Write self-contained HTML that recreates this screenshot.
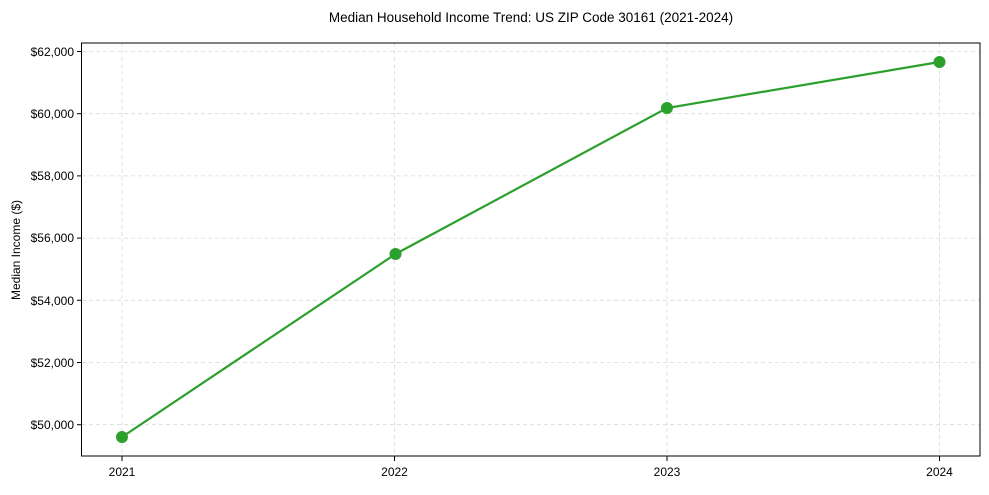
<!DOCTYPE html>
<html><head><style>body{margin:0;background:#fff}</style></head><body>
<svg width="989" height="490" xmlns="http://www.w3.org/2000/svg" font-family="Liberation Sans, Arial, sans-serif" font-size="12">
<text x="531" y="22" text-anchor="middle" font-size="13.5">Median Household Income Trend: US ZIP Code 30161 (2021-2024)</text>
<g stroke="#d9d9d9" stroke-dasharray="4,3" stroke-width="0.8">
<line x1="82" x2="980" y1="51.5" y2="51.5"/><line x1="82" x2="980" y1="113.7" y2="113.7"/><line x1="82" x2="980" y1="175.9" y2="175.9"/><line x1="82" x2="980" y1="238.1" y2="238.1"/><line x1="82" x2="980" y1="300.3" y2="300.3"/><line x1="82" x2="980" y1="362.5" y2="362.5"/><line x1="82" x2="980" y1="424.7" y2="424.7"/>
<line x1="122" x2="122" y1="43" y2="456"/><line x1="394.5" x2="394.5" y1="43" y2="456"/><line x1="667" x2="667" y1="43" y2="456"/><line x1="939.5" x2="939.5" y1="43" y2="456"/>
</g>
<rect x="81.5" y="43" width="898.5" height="413" fill="none" stroke="#000" stroke-width="1"/>
<g stroke="#000"><line x1="77" x2="81.5" y1="51.5" y2="51.5"/><line x1="77" x2="81.5" y1="113.7" y2="113.7"/><line x1="77" x2="81.5" y1="175.9" y2="175.9"/><line x1="77" x2="81.5" y1="238.1" y2="238.1"/><line x1="77" x2="81.5" y1="300.3" y2="300.3"/><line x1="77" x2="81.5" y1="362.5" y2="362.5"/><line x1="77" x2="81.5" y1="424.7" y2="424.7"/>
<line x1="122" x2="122" y1="456" y2="461"/><line x1="394.5" x2="394.5" y1="456" y2="461"/><line x1="667" x2="667" y1="456" y2="461"/><line x1="939.5" x2="939.5" y1="456" y2="461"/></g>
<g text-anchor="end" font-size="12"><text x="74" y="56">$62,000</text><text x="74" y="118">$60,000</text><text x="74" y="180">$58,000</text><text x="74" y="242">$56,000</text><text x="74" y="305">$54,000</text><text x="74" y="367">$52,000</text><text x="74" y="429">$50,000</text></g>
<g text-anchor="middle"><text x="122" y="476">2021</text><text x="394.5" y="476">2022</text><text x="667" y="476">2023</text><text x="939.5" y="476">2024</text></g>
<text transform="translate(20,250) rotate(-90)" text-anchor="middle">Median Income ($)</text>
<polyline points="122,437 395.5,254 667,108 939.5,62" fill="none" stroke="#2ca02c" stroke-width="2.2"/>
<g fill="#2ca02c"><circle cx="122" cy="437" r="6"/><circle cx="395.5" cy="254" r="6"/><circle cx="667" cy="108" r="6"/><circle cx="939.5" cy="62" r="6"/></g>
</svg>
</body></html>
